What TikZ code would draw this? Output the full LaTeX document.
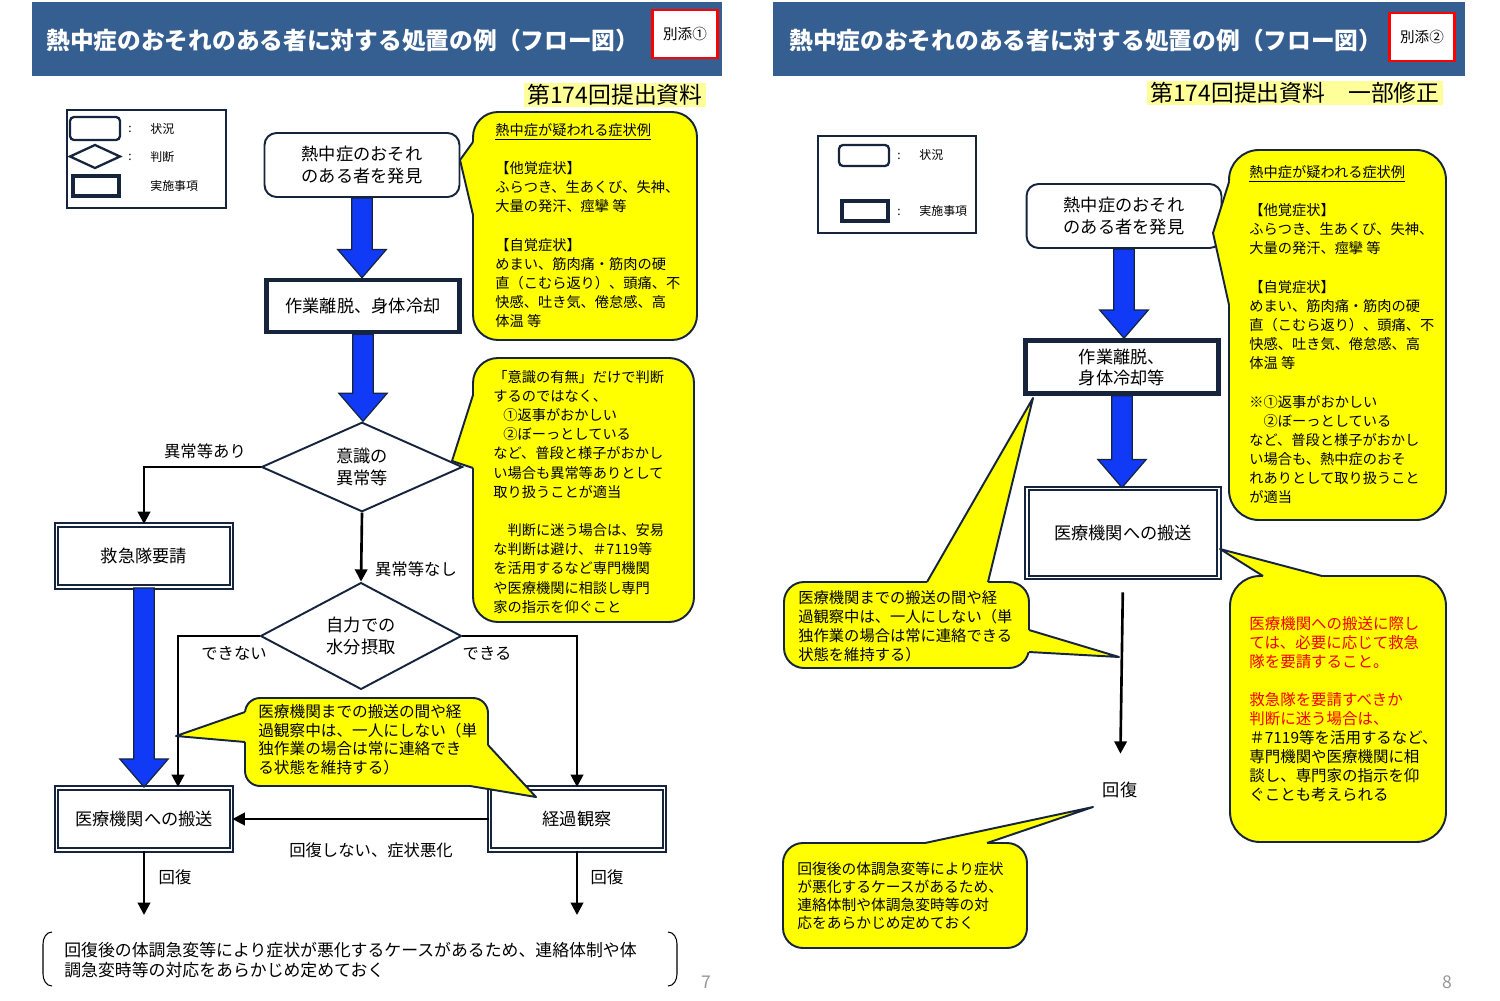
\documentclass[tikz,border=0pt]{standalone}
\usepackage{fontspec}
\setmainfont{Noto Sans CJK JP}
\usepackage{xcolor}
\usepackage{tikz}
\usetikzlibrary{arrows.meta,positioning,shapes.geometric,calc}

\definecolor{titleblue}{RGB}{54,95,145}
\definecolor{navyline}{RGB}{22,36,62}
\definecolor{arrowblue}{RGB}{16,58,245}
\definecolor{callyellow}{RGB}{255,255,0}
\definecolor{markyellow}{RGB}{255,255,153}
\definecolor{notered}{RGB}{240,0,0}
\definecolor{pagegray}{RGB}{150,150,150}

\begin{document}
\begin{tikzpicture}[x=0.02cm, y=-0.02cm,
    titletext/.style={text=white, inner sep=0pt, font=\fontsize{13.5}{16}\selectfont\bfseries},
    tagbox/.style={draw=red, line width=1.2pt, fill=white, minimum width=1.3cm, minimum height=0.95cm, font=\fontsize{8.3}{10}\selectfont},
    subnote/.style={fill=markyellow, inner xsep=2pt, inner ysep=1pt, font=\fontsize{13}{15}\selectfont},
    legframe/.style={draw=navyline, line width=0.8pt},
    legsym/.style={draw=navyline, line width=1.3pt},
    legtext/.style={inner sep=0pt, font=\fontsize{6.8}{8}\selectfont},
    state/.style={draw=navyline, line width=1.1pt, rounded corners=0.24cm, fill=white, minimum width=3.9cm, minimum height=1.28cm, align=center, font=\fontsize{9.8}{12}\selectfont},
    action/.style={draw=navyline, line width=2.6pt, fill=white, minimum width=3.86cm, minimum height=1.04cm, align=center, font=\fontsize{9.8}{12}\selectfont},
    actdouble/.style={draw=navyline, double=white, double distance=1.1pt, line width=1.1pt, fill=white, minimum width=3.5cm, minimum height=1.24cm, align=center, font=\fontsize{9.8}{12}\selectfont},
    judge/.style={diamond, draw=navyline, line width=1.1pt, fill=white, minimum width=4.02cm, minimum height=1.68cm, inner sep=0pt, align=center, font=\fontsize{9.8}{12.5}\selectfont},
    flowline/.style={draw=black, line width=1.5pt, -{Triangle[length=7pt,width=7pt]}},
    blockarr/.style={draw=navyline, fill=arrowblue, line width=0.7pt,
        to path={let \p1=(\tikztostart), \p2=(\tikztotarget) in
            (\x1-5.8pt,\y1) -- (\x1-5.8pt,\y2+16pt) -- (\x1-13.8pt,\y2+16pt) -- (\x1,\y2)
            -- (\x1+13.8pt,\y2+16pt) -- (\x1+5.8pt,\y2+16pt) -- (\x1+5.8pt,\y1) -- cycle}},
    lbl/.style={inner sep=0pt, font=\fontsize{9.3}{11}\selectfont},
    callbox/.style={draw=navyline, fill=callyellow, line width=1.1pt},
    callline/.style={draw=navyline, line width=1.1pt, line join=round},
    calltext/.style={inner sep=0pt, anchor=north west, align=left, font=\fontsize{8.1}{10.9}\selectfont},
    notetext/.style={inner sep=0pt, align=left, font=\fontsize{9.6}{11.4}\selectfont},
    bracket/.style={draw=black, line width=0.6pt},
    pagenum/.style={text=pagegray, inner sep=0pt, font=\fontsize{10}{12}\selectfont}
]
    \useasboundingbox (0,0) rectangle (1500,1000);

    % ===== left page =====
    \fill[titleblue] (32,2) rectangle (722,76);
    \node[titletext, anchor=west] (title1) at (46,40) {熱中症のおそれのある者に対する処置の例（フロー図）};
    \node[tagbox] (tag1) at (685,34) {別添①};
    \node[subnote] (sub1) at (615,95) {第174回提出資料};

    % legend
    \draw[legframe] (67,110) rectangle (226,208);
    \draw[legsym, rounded corners=0.08cm] (70,117) rectangle (120,140);
    \draw[legsym] (70,156.5) -- (95,145) -- (120,156.5) -- (95,168) -- cycle;
    \draw[legsym, line width=2.4pt] (73,176) rectangle (119,196);
    \node[legtext] (lcolonA) at (130,129) {:};
    \node[legtext] (lcolonB) at (130,157) {:};
    \node[legtext, anchor=west] (lstate) at (150,129) {状況};
    \node[legtext, anchor=west] (ljudge) at (150,157) {判断};
    \node[legtext, anchor=west] (laction) at (150,186) {実施事項};

    % flow
    \node[state] (find1) at (362,165) {熱中症のおそれ\\のある者を発見};
    \node[action] (cool1) at (363,306) {作業離脱、身体冷却};
    \node[judge] (ishiki) at (362,467) {意識の\\異常等};
    \node[actdouble] (kyukyu) at (144,556) {救急隊要請};
    \node[judge] (suibun) at (361,636) {自力での\\水分摂取};
    \node[actdouble] (hanso1) at (144,819) {医療機関への搬送};
    \node[actdouble] (keika) at (577,819) {経過観察};
    \coordinate (endL) at (144,915);
    \coordinate (endR) at (577,915);

    \draw[blockarr] (find1.south) to (cool1.north);
    \draw[blockarr] (cool1.south) to (ishiki.north);
    \draw[blockarr] (kyukyu.south) to (hanso1.north);
    \draw[flowline] (ishiki.west) -| (kyukyu.north);
    \draw[flowline] (ishiki.south) -- (suibun.north);
    \draw[flowline] (suibun.west) -| ([xshift=0.68cm]hanso1.north);
    \draw[flowline] (suibun.east) -| (keika.north);
    \draw[flowline] (keika.west) -- (hanso1.east);
    \draw[flowline] (hanso1.south) -- (endL);
    \draw[flowline] (keika.south) -- (endR);

    \node[lbl] (abnY) at (205,451) {異常等あり};
    \node[lbl] (abnN) at (416,569) {異常等なし};
    \node[lbl] (cannot) at (234,653) {できない};
    \node[lbl] (can) at (487,653) {できる};
    \node[lbl] (worse) at (371,850) {回復しない、症状悪化};
    \node[lbl] (recL) at (175,877) {回復};
    \node[lbl] (recR) at (607,877) {回復};

    % callout: symptoms
    \draw[callbox, rounded corners=0.5cm] (473,112) rectangle (697,340);
    \fill[callyellow] (480,142) -- (473,142) -- (460,160) -- (473,215) -- (480,215) -- cycle;
    \draw[callline] (473,142) -- (460,160) -- (473,215);
    \node[calltext] (symL) at (495,123) {\underline{熱中症が疑われる症状例}\\ ~\\
        【他覚症状】\\
        ふらつき、生あくび、失神、\\
        大量の発汗、痙攣 等\\ ~\\
        【自覚症状】\\
        めまい、筋肉痛・筋肉の硬\\
        直（こむら返り）、頭痛、不\\
        快感、吐き気、倦怠感、高\\
        体温 等};

    % callout: consciousness
    \draw[callbox, rounded corners=0.5cm] (473,358) rectangle (694,622);
    \fill[callyellow] (480,395) -- (473,395) -- (452,461) -- (473,468) -- (480,468) -- cycle;
    \draw[callline] (473,395) -- (452,461) -- (473,468);
    \node[calltext] (consL) at (493,370) {「意識の有無」だけで判断\\
        するのではなく、\\
        \hspace{0.7em}①返事がおかしい\\
        \hspace{0.7em}②ぼーっとしている\\
        など、普段と様子がおかし\\
        い場合も異常等ありとして\\
        取り扱うことが適当\\ ~\\
        　判断に迷う場合は、安易\\
        な判断は避け、＃7119等\\
        を活用するなど専門機関\\
        や医療機関に相談し専門\\
        家の指示を仰ぐこと};

    % callout: stay with the person
    \draw[callbox, rounded corners=0.3cm] (245,698) rectangle (488,786);
    \fill[callyellow] (252,712) -- (245,712) -- (176,736) -- (245,742) -- (252,742) -- cycle;
    \draw[callline] (245,712) -- (176,736) -- (245,742);
    \fill[callyellow] (488,745) -- (536,797) -- (470,786) -- (470,745) -- cycle;
    \draw[callline] (488,745) -- (536,797) -- (470,786);
    \node[calltext, font=\fontsize{8.9}{10.6}\selectfont] (stayL) at (258,704) {医療機関までの搬送の間や経\\
        過観察中は、一人にしない（単\\
        独作業の場合は常に連絡でき\\
        る状態を維持する）};

    % bottom note
    \draw[bracket] (52,932) to[out=180,in=90] (43,944) -- (43,974) to[out=270,in=180] (52,986);
    \draw[bracket] (668,932) to[out=0,in=90] (677,944) -- (677,974) to[out=270,in=0] (668,986);
    \node[notetext, anchor=west] (afterL) at (64,960) {回復後の体調急変等により症状が悪化するケースがあるため、連絡体制や体\\調急変時等の対応をあらかじめ定めておく};
    \node[pagenum] (pg7) at (706,982) {7};

    % ===== right page =====
    \fill[titleblue] (773,2) rectangle (1465,76);
    \node[titletext, anchor=west] (title2) at (789,40) {熱中症のおそれのある者に対する処置の例（フロー図）};
    \node[tagbox] (tag2) at (1422,37) {別添②};
    \node[subnote] (sub2) at (1295,93) {第174回提出資料　一部修正};

    % legend
    \draw[legframe] (818,136) rectangle (976,233);
    \draw[legsym, rounded corners=0.08cm] (839,145) rectangle (889,166);
    \draw[legsym, line width=2.4pt] (842,201) rectangle (888,221);
    \node[legtext] (rcolonA) at (899,156) {:};
    \node[legtext] (rcolonB) at (899,212) {:};
    \node[legtext, anchor=west] (rstate) at (919,155) {状況};
    \node[legtext, anchor=west] (raction) at (919,211) {実施事項};

    % flow
    \node[state] (find2) at (1124,216) {熱中症のおそれ\\のある者を発見};
    \node[action, minimum height=1.06cm] (cool2) at (1122,367) {作業離脱、\\身体冷却等};
    \node[actdouble, minimum width=3.84cm, minimum height=1.78cm] (hanso2) at (1123,533) {医療機関への搬送};
    \node[lbl, font=\fontsize{9.8}{12}\selectfont] (kaifuku2) at (1120,790) {回復};

    \draw[blockarr] (find2.south) to (cool2.north);
    \draw[blockarr] (cool2.south) to (hanso2.north);
    \draw[flowline, shorten <=0.28cm, shorten >=0.56cm] (hanso2.south) -- (kaifuku2.north);

    % callout: symptoms (revised)
    \draw[callbox, rounded corners=0.6cm] (1229,150) rectangle (1446,520);
    \fill[callyellow] (1236,182) -- (1229,182) -- (1213,233) -- (1229,305) -- (1236,305) -- cycle;
    \draw[callline] (1229,182) -- (1213,233) -- (1229,305);
    \node[calltext] (symR) at (1249,165) {\underline{熱中症が疑われる症状例}\\ ~\\
        【他覚症状】\\
        ふらつき、生あくび、失神、\\
        大量の発汗、痙攣 等\\ ~\\
        【自覚症状】\\
        めまい、筋肉痛・筋肉の硬\\
        直（こむら返り）、頭痛、不\\
        快感、吐き気、倦怠感、高\\
        体温 等\\ ~\\
        ※①返事がおかしい\\
        \hspace{1em}②ぼーっとしている\\
        など、普段と様子がおかし\\
        い場合も、熱中症のおそ\\
        れありとして取り扱うこと\\
        が適当};

    % callout: ambulance
    \draw[callbox, rounded corners=0.6cm] (1230,576) rectangle (1446,842);
    \fill[callyellow] (1263,583) -- (1263,576) -- (1220,549) -- (1322,576) -- (1322,583) -- cycle;
    \draw[callline] (1263,576) -- (1220,549) -- (1322,576);
    \node[calltext, font=\fontsize{8.8}{10.8}\selectfont] (redR) at (1249,616) {\textcolor{notered}{医療機関への搬送に際し}\\
        \textcolor{notered}{ては、必要に応じて救急}\\
        \textcolor{notered}{隊を要請すること。}\\ ~\\
        \textcolor{notered}{救急隊を要請すべきか}\\
        \textcolor{notered}{判断に迷う場合は、}\\
        ＃7119等を活用するなど、\\
        専門機関や医療機関に相\\
        談し、専門家の指示を仰\\
        ぐことも考えられる};

    % callout: stay with the person (revised)
    \draw[callbox, rounded corners=0.4cm] (784,582) rectangle (1029,668);
    \fill[callyellow] (927,589) -- (927,582) -- (1033,398) -- (988,582) -- (988,589) -- cycle;
    \draw[callline] (927,582) -- (1033,398) -- (988,582);
    \fill[callyellow] (1022,630) -- (1029,630) -- (1119,657) -- (1029,652) -- (1022,652) -- cycle;
    \draw[callline] (1029,630) -- (1119,657) -- (1029,652);
    \node[calltext, font=\fontsize{8.7}{10.8}\selectfont] (stayR) at (798,590) {医療機関までの搬送の間や経\\
        過観察中は、一人にしない（単\\
        独作業の場合は常に連絡できる\\
        状態を維持する）};

    % callout: after recovery
    \draw[callbox, rounded corners=0.4cm] (783,843) rectangle (1027,948);
    \fill[callyellow] (925,850) -- (925,843) -- (1093,807) -- (987,843) -- (987,850) -- cycle;
    \draw[callline] (925,843) -- (1093,807) -- (987,843);
    \node[calltext, font=\fontsize{8.4}{10.2}\selectfont] (afterR) at (797,862) {回復後の体調急変等により症状\\
        が悪化するケースがあるため、\\
        連絡体制や体調急変時等の対\\
        応をあらかじめ定めておく};

    \node[pagenum] (pg8) at (1447,982) {8};
\end{tikzpicture}
\end{document}
